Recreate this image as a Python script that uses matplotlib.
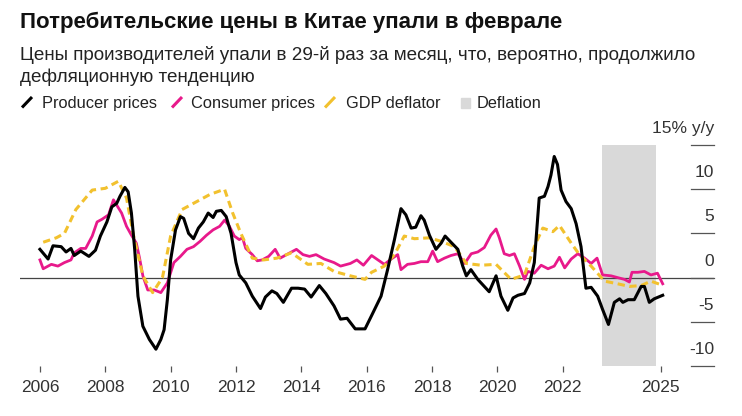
import matplotlib
matplotlib.use("Agg")
from matplotlib import pyplot as plt
from matplotlib.lines import Line2D
from matplotlib.patches import Rectangle
import matplotlib.transforms as mtransforms

plt.rcParams['font.family'] = ['Liberation Sans', 'DejaVu Sans']

# Producer prices, % y/y (decimal year, value)
ppi_t = [2006.0, 2006.25, 2006.4, 2006.65, 2006.8, 2006.95, 2007.05, 2007.25, 2007.5, 2007.7,
         2007.85, 2008.05, 2008.2, 2008.35, 2008.45, 2008.6, 2008.7, 2008.8, 2008.9, 2009.0,
         2009.15, 2009.35, 2009.55, 2009.7, 2009.8, 2009.9, 2010.0, 2010.15, 2010.3, 2010.4,
         2010.55, 2010.7, 2010.85, 2011.0, 2011.15, 2011.3, 2011.4, 2011.55, 2011.7, 2011.85,
         2012.0, 2012.1, 2012.3, 2012.5, 2012.75, 2012.9, 2013.1, 2013.25, 2013.45, 2013.7,
         2013.9, 2014.1, 2014.3, 2014.55, 2014.75, 2015.0, 2015.2, 2015.4, 2015.65, 2015.95,
         2016.15, 2016.44, 2016.64, 2016.85, 2017.05, 2017.2, 2017.36, 2017.5, 2017.66, 2017.76,
         2017.92, 2018.12, 2018.28, 2018.4, 2018.58, 2018.79, 2018.94, 2019.05, 2019.19, 2019.4,
         2019.6, 2019.75, 2019.96, 2020.11, 2020.32, 2020.48, 2020.63, 2020.83, 2020.99, 2021.13,
         2021.28, 2021.44, 2021.55, 2021.64, 2021.74, 2021.84, 2021.95, 2022.1, 2022.26, 2022.41,
         2022.56, 2022.71, 2022.87, 2023.07, 2023.22, 2023.4, 2023.58, 2023.74, 2023.84, 2024.0,
         2024.19, 2024.4, 2024.5, 2024.65, 2024.8, 2025.06]
ppi_v = [3.2, 2.1, 3.6, 3.5, 2.9, 3.3, 2.5, 3.0, 2.4, 3.1,
         4.7, 6.3, 8.0, 8.4, 9.2, 10.2, 9.7, 7.3, 3.2, -2.1,
         -5.5, -7.0, -8.1, -7.0, -5.9, -2.5, 2.0, 5.4, 6.9, 6.7,
         5.0, 4.4, 5.6, 6.3, 7.3, 6.8, 7.5, 7.6, 6.9, 5.0,
         1.7, 0.3, -0.6, -2.1, -3.5, -2.2, -1.5, -1.8, -2.8, -1.2,
         -1.2, -1.3, -2.2, -0.9, -1.8, -3.2, -4.7, -4.6, -5.8, -5.8,
         -4.3, -2.1, 0.9, 4.3, 7.8, 7.1, 5.6, 5.7, 7.0, 6.5,
         4.8, 3.2, 3.9, 4.7, 4.0, 3.2, 1.3, 0.2, 0.9, -0.2,
         -1.0, -1.6, 0.2, -2.1, -3.7, -2.3, -2.0, -1.8, -0.6, 1.7,
         9.0, 9.2, 10.3, 11.6, 13.7, 12.8, 9.9, 8.6, 7.8, 6.1,
         3.5, -1.2, -1.1, -2.1, -3.6, -5.3, -2.8, -2.4, -2.8, -2.5,
         -2.5, -1.0, -1.0, -2.8, -2.4, -2.0]

# Consumer prices, % y/y
cpi_t = [2006.0, 2006.1, 2006.35, 2006.55, 2006.75, 2006.95, 2007.05, 2007.25, 2007.4, 2007.6,
         2007.75, 2007.9, 2008.1, 2008.25, 2008.35, 2008.5, 2008.65, 2008.8, 2008.95, 2009.05,
         2009.15, 2009.3, 2009.5, 2009.7, 2009.9, 2010.1, 2010.3, 2010.5, 2010.7, 2010.9,
         2011.1, 2011.3, 2011.5, 2011.65, 2011.8, 2011.95, 2012.1, 2012.2, 2012.3, 2012.5,
         2012.65, 2012.8, 2013.0, 2013.2, 2013.35, 2013.55, 2013.85, 2014.05, 2014.25, 2014.45,
         2014.7, 2015.0, 2015.2, 2015.5, 2015.7, 2015.9, 2016.15, 2016.54, 2016.75, 2016.95,
         2017.05, 2017.25, 2017.46, 2017.66, 2017.87, 2018.02, 2018.17, 2018.38, 2018.58, 2018.79,
         2019.0, 2019.2, 2019.4, 2019.6, 2019.8, 2019.96, 2020.06, 2020.21, 2020.37, 2020.52,
         2020.68, 2020.83, 2020.93, 2021.13, 2021.34, 2021.55, 2021.74, 2021.9, 2022.06, 2022.26,
         2022.46, 2022.67, 2022.87, 2023.05, 2023.22, 2023.48, 2023.68, 2023.89, 2024.04, 2024.12,
         2024.3, 2024.5, 2024.7, 2024.9, 2025.06]
cpi_v = [2.0, 1.0, 1.5, 1.3, 1.7, 2.0, 2.8, 3.3, 3.3, 4.7,
         6.3, 6.6, 7.1, 8.8, 8.2, 7.3, 5.8, 4.8, 3.9, 2.2,
         0.2, -1.4, -1.4, -1.7, -0.6, 1.7, 2.4, 3.2, 3.5, 4.1,
         4.8, 5.4, 5.8, 6.5, 5.8, 4.7, 4.3, 4.5, 3.3, 2.6,
         1.9, 2.0, 2.4, 3.2, 2.2, 2.6, 3.2, 2.6, 2.4, 2.6,
         2.1, 1.7, 1.3, 1.6, 2.0, 1.4, 2.5, 1.5, 2.1, 2.6,
         0.9, 1.5, 1.6, 1.8, 1.8, 3.0, 1.8, 2.2, 2.5, 2.7,
         1.6, 2.7, 2.9, 3.4, 4.8, 5.5, 4.5, 2.7, 2.5, 2.7,
         1.3, -0.2, 0.7, 0.5, 1.4, 1.0, 1.3, 2.3, 1.1, 2.1,
         2.7, 2.2, 1.6, 2.2, 0.3, 0.2, 0.0, -0.2, -0.5, 0.6,
         0.6, 0.7, 0.3, 0.5, -0.7]

# GDP deflator, % y/y (quarterly)
gdp_t = [2006.1, 2006.5, 2006.75, 2007.1, 2007.6, 2008.0, 2008.4, 2008.65, 2008.85, 2009.15,
         2009.45, 2009.75, 2010.0, 2010.35, 2010.7, 2011.2, 2011.65, 2011.9, 2012.15, 2012.5,
         2012.85, 2013.25, 2013.7, 2014.2, 2014.6, 2015.0, 2015.5, 2015.95, 2016.15, 2016.54,
         2016.85, 2017.15, 2017.46, 2017.92, 2018.28, 2018.69, 2019.05, 2019.5, 2019.96, 2020.42,
         2020.83, 2021.13, 2021.39, 2021.7, 2021.9, 2022.26, 2022.51, 2022.87, 2023.28, 2023.68,
         2024.04, 2024.4, 2024.7, 2025.0]
gdp_v = [4.0, 4.5, 5.0, 7.7, 9.9, 10.1, 10.9, 9.0, 5.0, 0.2,
         -1.7, 0.0, 4.7, 7.7, 8.4, 9.4, 10.0, 7.3, 5.0, 2.2,
         2.0, 2.2, 2.8, 1.5, 1.6, 0.7, 0.2, -0.2, 0.6, 1.3,
         2.6, 4.7, 4.4, 4.5, 4.1, 3.5, 1.6, 1.4, 1.5, -0.2,
         0.3, 3.5, 5.6, 5.2, 5.9, 3.9, 2.6, 1.3, -0.4, -0.7,
         -1.0, -0.9, -0.4, -0.8]

deflation_span = (2023.2, 2024.85)
x_ticks = [2006, 2008, 2010, 2012, 2014, 2016, 2018, 2020, 2022, 2025]
y_ticks = [-10, -5, 0, 5, 10, 15]

PPI_COLOR = '#000000'
CPI_COLOR = '#e8198b'
GDP_COLOR = '#f2c12e'
SHADE = '#d9d9d9'

fig = plt.figure(figsize=(7.42, 4.16), dpi=100)
ax = fig.add_axes([20 / 742, 1 - 366 / 416, 694 / 742, 221 / 416])

ax.set_xlim(2005.39, 2026.63)
ax.set_ylim(-10, 15)

ax.axvspan(deflation_span[0], deflation_span[1], color=SHADE, lw=0, zorder=0)
ax.axhline(0, color='#444444', lw=0.9, zorder=1)

ax.plot(cpi_t, cpi_v, color=CPI_COLOR, lw=2.0, zorder=2)
ax.plot(gdp_t, gdp_v, color=GDP_COLOR, lw=2.2, ls=(0, (2.4, 1.5)), zorder=3)
ax.plot(ppi_t, ppi_v, color=PPI_COLOR, lw=2.2, zorder=4)

for s in ax.spines.values():
    s.set_visible(False)

ax.set_xticks(x_ticks)
ax.set_xticklabels([str(t) for t in x_ticks])
ax.tick_params(axis='x', direction='out', length=4.5, width=0.9, color='#555555',
               pad=5.5, labelsize=12.5, labelcolor='#333333')
ax.set_yticks([])

# right-hand value scale: short rule with label sitting on it
tr = mtransforms.blended_transform_factory(ax.transAxes, ax.transData)
for v in y_ticks:
    ax.plot([0.967, 1.0], [v, v], color='#555555', lw=0.9, transform=tr, clip_on=False)
    lab = '15% y/y' if v == 15 else str(v)
    off = mtransforms.offset_copy(tr, fig=fig, y=6.5, units='points')
    ax.text(1.0, v, lab, transform=off, ha='right', va='bottom', fontsize=12.5, color='#333333')

fig.text(20 / 742, 1 - 28 / 416, 'Потребительские цены в Китае упали в феврале',
         fontsize=16, fontweight='bold', color='#111111', va='baseline')
fig.text(20 / 742, 1 - 59.5 / 416,
         'Цены производителей упали в 29-й раз за месяц, что, вероятно, продолжило',
         fontsize=13.6, color='#222222', va='baseline')
fig.text(20 / 742, 1 - 82 / 416, 'дефляционную тенденцию',
         fontsize=13.6, color='#222222', va='baseline')

# legend
leg_y = 1 - 108 / 416
items = [(22, 42, PPI_COLOR, 'Producer prices'),
         (172, 191, CPI_COLOR, 'Consumer prices'),
         (325, 346, GDP_COLOR, 'GDP deflator')]
for mx, tx, col, lab in items:
    fig.add_artist(Line2D([mx / 742, (mx + 10) / 742], [leg_y + 0.5 / 416, leg_y + 11 / 416],
                          color=col, lw=2.2, solid_capstyle='butt'))
    fig.text(tx / 742, leg_y, lab, fontsize=11.8, color='#222222', va='baseline')
fig.add_artist(Rectangle((461 / 742, leg_y), 9 / 742, 10 / 416, color=SHADE,
                         transform=fig.transFigure))
fig.text(477 / 742, leg_y, 'Deflation', fontsize=11.8, color='#222222', va='baseline')

fig.savefig('out.png', dpi=100)
